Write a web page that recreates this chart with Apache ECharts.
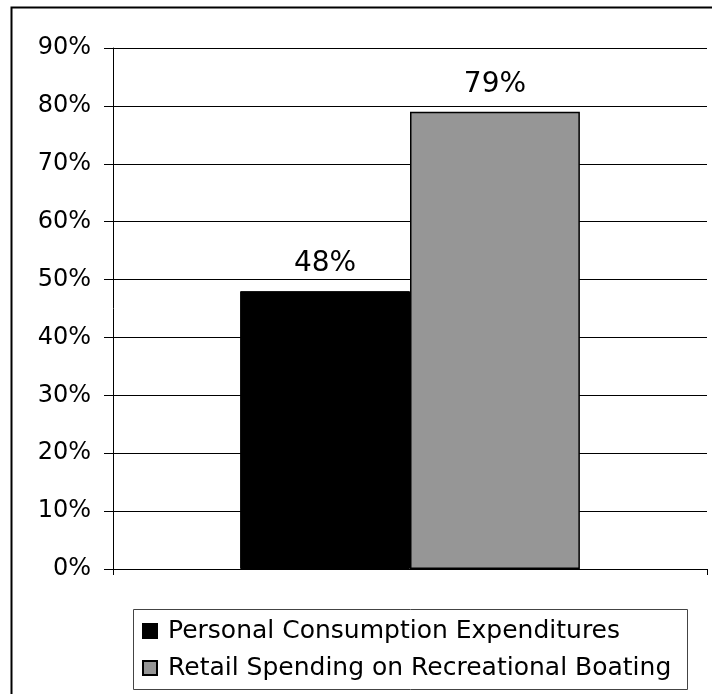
<!DOCTYPE html>
<html>
<head>
<meta charset="utf-8">
<script src="https://cdn.jsdelivr.net/npm/echarts@6/dist/echarts.min.js"></script>
<style>
  html, body { margin: 0; padding: 0; background: #fff; }
  #chart { width: 712px; height: 694px; }
</style>
</head>
<body>
<div id="chart"></div>
<script>
// Share of growth, one category with two comparison bars
const categories = [''];
const seriesNames = ['Personal Consumption Expenditures', 'Retail Spending on Recreational Boating'];
const personalConsumption = [48];
const recreationalBoating = [79];
const yTicks = { min: 0, max: 90, interval: 10 };

const FONT = 'DejaVu Sans';
const chart = echarts.init(document.getElementById('chart'), null, { renderer: 'canvas' });

const barLabel = {
  show: true,
  position: 'top',
  distance: 13,
  formatter: '{c}%',
  color: '#000',
  fontFamily: FONT,
  fontSize: 28
};

chart.setOption({
  animation: false,
  backgroundColor: '#fff',
  graphic: [
    {
      // outer chart frame
      type: 'rect',
      shape: { x: 11.5, y: 7.5, width: 720, height: 720 },
      style: { fill: 'none', stroke: '#000', lineWidth: 2 },
      silent: true,
      z: 0
    },
    {
      // legend frame
      type: 'rect',
      shape: { x: 133.5, y: 609.5, width: 554, height: 80 },
      style: { fill: '#fff', stroke: '#444', lineWidth: 1 },
      silent: true,
      z: 1
    }
  ],
  grid: { left: 113, right: 5, top: 48, bottom: 125, containLabel: false },
  xAxis: {
    type: 'category',
    data: categories,
    axisLine: { show: true, lineStyle: { color: '#000', width: 1 } },
    axisTick: { show: true, length: 6, lineStyle: { color: '#000' } },
    axisLabel: { show: false },
    splitLine: { show: false }
  },
  yAxis: {
    type: 'value',
    min: yTicks.min,
    max: yTicks.max,
    interval: yTicks.interval,
    axisLine: { show: true, lineStyle: { color: '#000', width: 1 } },
    axisTick: { show: true, length: 9, lineStyle: { color: '#000' } },
    axisLabel: {
      formatter: '{value}%',
      color: '#000',
      fontFamily: FONT,
      fontSize: 24,
      margin: 22
    },
    splitLine: { show: true, lineStyle: { color: '#000', width: 1 } }
  },
  legend: {
    orient: 'vertical',
    left: 142,
    top: 618,
    padding: 0,
    itemWidth: 14,
    itemHeight: 14,
    itemGap: 11,
    icon: 'rect',
    z: 5,
    textStyle: { fontFamily: FONT, fontSize: 25, color: '#000', lineHeight: 26, padding: [0, 0, 0, 6] },
    data: seriesNames
  },
  series: [
    {
      name: seriesNames[0],
      type: 'bar',
      data: personalConsumption,
      barGap: '0%',
      barCategoryGap: '42.8%',
      itemStyle: { color: '#000', borderColor: '#000', borderWidth: 1 },
      label: barLabel
    },
    {
      name: seriesNames[1],
      type: 'bar',
      data: recreationalBoating,
      itemStyle: { color: '#969696', borderColor: '#000', borderWidth: 1.5 },
      label: barLabel
    }
  ]
});
</script>
</body>
</html>
